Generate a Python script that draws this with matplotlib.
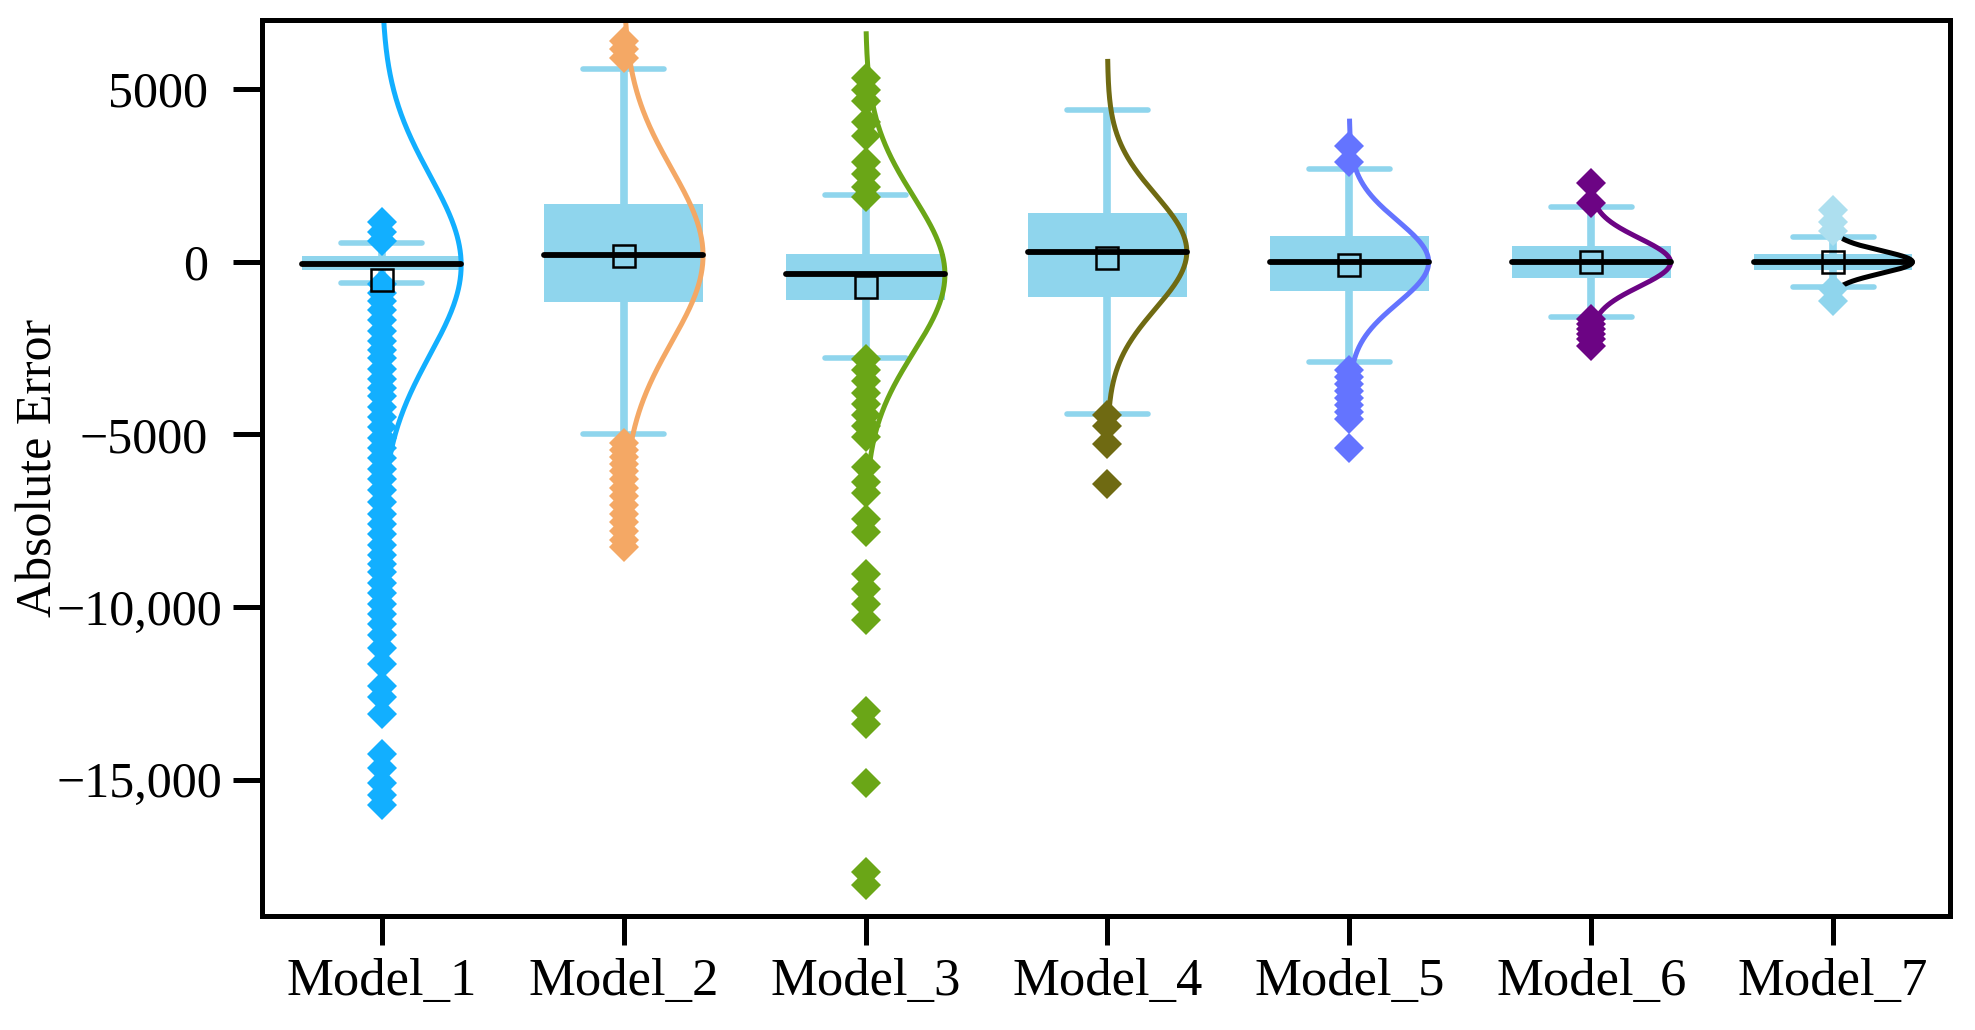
import numpy as np
import matplotlib
matplotlib.use("Agg")
import matplotlib.pyplot as plt

plt.rcParams["font.family"] = ["Liberation Serif", "DejaVu Serif"]

# --- values ---
models = ["Model_1", "Model_2", "Model_3", "Model_4", "Model_5", "Model_6", "Model_7"]
q1 = [-250, -1170, -1110, -1035, -860, -470, -250]
q3 = [150, 1680, 220, 1420, 750, 460, 230]
medians = [-80, 180, -370, 290, -10, -20, -10]
means = [-520, 150, -725, 95, -95, -20, -15]
whisk_lo = [-615, -5000, -2800, -4400, -2910, -1590, -745]
whisk_hi = [530, 5590, 1940, 4380, 2670, 1570, 715]

# normal curve next to each box
curve_mu = [-100, 180, -370, 290, -10, -20, -10]
curve_sd = [2600, 2500, 2250, 1650, 1200, 700, 330]
curve_lo = [-9000, -6500, -6000, -4500, -3200, -1900, -650]
curve_hi = [9500, 8500, 6600, 5800, 4070, 1900, 640]

out_hi = [
    [1150, 850, 600],
    [6400, 6150, 5900],
    [5320, 4980, 4650, 4040, 3650, 2880, 2550, 2160, 1880],
    [],
    [3340, 2900],
    [2280, 1700],
    [1500, 1150, 900],
]
out_lo = [
    [-650, -900, -1150, -1400, -1700, -2000, -2300, -2550, -2800, -3100,
     -3400, -3650, -3900, -4200, -4500, -4800, -5100, -5400, -5700, -6000,
     -6300, -6600, -6950, -7300, -7600, -7900, -8200, -8500, -8750, -9000,
     -9300, -9600, -9900, -10200, -10500, -10800, -11200, -11650, -12300,
     -12600, -13100, -14250, -14650, -15100, -15450, -15750],
    [-5250, -5450, -5650, -5850, -6050, -6300, -6550, -6800, -7050, -7300,
     -7550, -7800, -8050, -8250],
    [-2830, -3150, -3470, -3790, -4120, -4440, -4760, -5080, -5940, -6370,
     -6690, -7440, -7820, -9050, -9480, -9910, -10390, -13020, -13400,
     -15110, -17690, -18060],
    [-4430, -4770, -5270, -6430],
    [-3150, -3350, -3550, -3750, -3950, -4150, -4350, -4550, -5400],
    [-1650, -1800, -1950, -2100, -2250, -2450],
    [-800, -1150],
]

colors = ["#12AFFF", "#F4A865", "#6AA617", "#6F6A12", "#6474FF", "#6C0484", "#ADDFEF"]
lo_colors = colors[:6] + ["#8FD5ED"]
curve_colors = colors[:6] + ["black"]
box_color = "#8FD5ED"

box_w = 0.656
cap_w = 0.335

fig = plt.figure(figsize=(19.75, 10.30), dpi=100)
ax = fig.add_axes([0.1327, 0.1107, 0.8546, 0.8699])

x = np.arange(len(models))
ax.bar(x, np.array(q3) - np.array(q1), bottom=q1, width=box_w,
       color=box_color, zorder=1)

for i in x:
    # whiskers + caps
    ax.vlines(i, q3[i], whisk_hi[i], color=box_color, lw=5.5, zorder=1.5)
    ax.vlines(i, whisk_lo[i], q1[i], color=box_color, lw=5.5, zorder=1.5)
    for yc in (whisk_lo[i], whisk_hi[i]):
        ax.plot([i - cap_w / 2, i + cap_w / 2], [yc, yc], color=box_color,
                lw=4, solid_capstyle="round", zorder=1.5)

    # normal curve on the right side
    yy = np.linspace(curve_lo[i], curve_hi[i], 400)
    dens = np.exp(-0.5 * ((yy - curve_mu[i]) / curve_sd[i]) ** 2)
    ax.plot(i + box_w / 2 * dens, yy, color=curve_colors[i], lw=3.6,
            zorder=2)

    # outliers
    if out_hi[i]:
        ax.plot([i] * len(out_hi[i]), out_hi[i], ls="none", marker="D",
                ms=15.5, color=colors[i], mew=0, zorder=3)
    if out_lo[i]:
        ax.plot([i] * len(out_lo[i]), out_lo[i], ls="none", marker="D",
                ms=15.5, color=lo_colors[i], mew=0, zorder=3)

    # median + mean
    ax.plot([i - box_w / 2, i + box_w / 2], [medians[i], medians[i]],
            color="black", lw=4.2, solid_capstyle="round", zorder=4)
    ax.plot(i, means[i], marker="s", ms=16, mfc="none", mec="black",
            mew=1.8, zorder=5)

ax.set_xlim(-0.495, 6.483)
ax.set_ylim(-18950, 7000)
ax.set_xticks(x)
ax.set_xticklabels(models, fontsize=38)
ax.set_yticks([5000, 0, -5000, -10000, -15000])
ax.set_yticklabels(["5000", "0", "\u22125000", "\u221210,000", "\u221215,000"],
                   fontsize=36)
ax.set_ylabel("Absolute Error", fontsize=36)
ax.yaxis.set_label_coords(-0.118, 0.5)

ax.tick_params(axis="both", length=21, width=3.6)
ax.tick_params(axis="y", pad=18)
ax.tick_params(axis="x", pad=9)
# the comma labels sit a little closer to the axis in the original
for t in ax.yaxis.get_major_ticks()[3:]:
    t.set_pad(8)
for sp in ax.spines.values():
    sp.set_linewidth(3.6)

fig.savefig("out.png", dpi=100)
